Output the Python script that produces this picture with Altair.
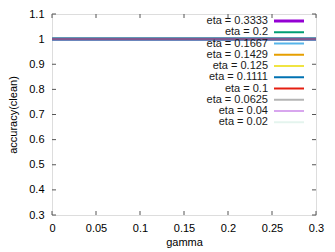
import altair as alt
import pandas as pd

# ---- data ----
eta_labels = ["eta = 0.3333", "eta = 0.2", "eta = 0.1667", "eta = 0.1429", "eta = 0.125",
              "eta = 0.1111", "eta = 0.1", "eta = 0.0625", "eta = 0.04", "eta = 0.02"]
eta_colors = ["#9400d3", "#009e73", "#56b4e9", "#e69f00", "#f0e442",
              "#0072b2", "#e51e10", "#b4b4b4", "#d8a6ee", "#e4f4ee"]
gamma = [0.0, 0.05, 0.1, 0.15, 0.2, 0.25, 0.3]
accuracy = {
    "eta = 0.3333": [1.0, 1.0, 1.0, 1.0, 1.0, 1.0, 1.0],
    "eta = 0.2":    [1.0, 1.0, 1.0, 1.0, 1.0, 1.0, 1.0],
    "eta = 0.1667": [1.0, 1.0, 1.0, 1.0, 1.0, 1.0, 1.0],
    "eta = 0.1429": [1.0, 1.0, 1.0, 1.0, 1.0, 1.0, 1.0],
    "eta = 0.125":  [1.0, 1.0, 1.0, 1.0, 1.0, 1.0, 1.0],
    "eta = 0.1111": [1.0, 1.0, 1.0, 1.0, 1.0, 1.0, 1.0],
    "eta = 0.1":    [1.0, 1.0, 1.0, 1.0, 1.0, 1.0, 1.0],
    "eta = 0.0625": [1.0, 1.0, 1.0, 1.0, 1.0, 1.0, 1.0],
    "eta = 0.04":   [1.0, 1.0, 1.0, 1.0, 1.0, 1.0, 1.0],
    "eta = 0.02":   [1.0, 1.0, 1.0, 1.0, 1.0, 1.0, 1.0],
}
x_ticks = [0, 0.05, 0.1, 0.15, 0.2, 0.25, 0.3]
y_ticks = [0.3, 0.4, 0.5, 0.6, 0.7, 0.8, 0.9, 1.0, 1.1]

W, H = 264, 201
FONT = "Liberation Sans, Arial, sans-serif"

color_scale = alt.Scale(domain=eta_labels, range=eta_colors)
xscale = alt.Scale(domain=[0, 0.3], nice=False, zero=False)
yscale = alt.Scale(domain=[0.3, 1.1], nice=False, zero=False)

x_axis = alt.Axis(values=x_ticks, format="~g", title="gamma", tickSize=0, domain=False,
                  grid=False, labelPadding=7, titlePadding=3, labelFlush=False,
                  labelOverlap=False, titleFontWeight="normal", titleFontSize=11,
                  labelFontSize=11)
y_axis = alt.Axis(values=y_ticks, format="~g", title="accuracy(clean)", tickSize=0,
                  domain=False, grid=False, labelPadding=8, labelFlush=False,
                  labelOverlap=False, titleAngle=270, titleBaseline="middle",
                  titleAlign="center", titleX=-39, titleY=H / 2,
                  titleFontWeight="normal", titleFontSize=11, labelFontSize=11)

rows = []
for lab in eta_labels:
    for g, a in zip(gamma, accuracy[lab]):
        rows.append({"gamma": g, "acc": a, "eta": lab})
df = pd.DataFrame(rows)

# draw order: faint series first, light-blue just under the top series
order = ["eta = 0.02", "eta = 0.04", "eta = 0.0625", "eta = 0.1", "eta = 0.1111",
         "eta = 0.125", "eta = 0.1429", "eta = 0.2", "eta = 0.1667", "eta = 0.3333"]
line_layers = []
for lab in order:
    is_top = lab == "eta = 0.3333"
    if is_top:
        mk = alt.Chart(df).transform_filter(alt.datum.eta == lab).mark_line(
            strokeWidth=2.6, color="#80588f")
        lay = mk.encode(
            x=alt.X("gamma:Q", scale=xscale, axis=x_axis, title="gamma"),
            y=alt.Y("acc:Q", scale=yscale, axis=y_axis, title="accuracy(clean)"),
        )
    else:
        lay = alt.Chart(df).transform_filter(alt.datum.eta == lab).mark_line(
            strokeWidth=3.6 if lab == "eta = 0.1667" else 3.4,
        ).encode(
            x=alt.X("gamma:Q", scale=xscale, axis=x_axis, title="gamma"),
            y=alt.Y("acc:Q", scale=yscale, axis=y_axis, title="accuracy(clean)"),
            color=alt.Color("eta:N", scale=color_scale, legend=None),
        )
    line_layers.append(lay)

tick_color = "#555555"
xt = pd.DataFrame({"xt": x_ticks})
yt = pd.DataFrame({"yt": y_ticks})
ticks = [
    alt.Chart(yt).mark_rule(color=tick_color, strokeWidth=1).encode(
        y=alt.Y("yt:Q", scale=yscale, axis=y_axis, title="accuracy(clean)"),
        x=alt.value(0), x2=alt.value(4)),
    alt.Chart(yt).mark_rule(color=tick_color, strokeWidth=1).encode(
        y=alt.Y("yt:Q", scale=yscale, axis=y_axis, title="accuracy(clean)"),
        x=alt.value(W - 4), x2=alt.value(W)),
    alt.Chart(xt).mark_rule(color=tick_color, strokeWidth=1).encode(
        x=alt.X("xt:Q", scale=xscale, axis=x_axis, title="gamma"),
        y=alt.value(H - 4), y2=alt.value(H)),
    alt.Chart(xt).mark_rule(color=tick_color, strokeWidth=1).encode(
        x=alt.X("xt:Q", scale=xscale, axis=x_axis, title="gamma"),
        y=alt.value(0), y2=alt.value(4)),
]

leg_df = pd.DataFrame({"eta": eta_labels, "idx": list(range(len(eta_labels)))})
leg_base = alt.Chart(leg_df).transform_calculate(ly="7 + datum.idx * 11.25")
leg_text = leg_base.mark_text(align="right", baseline="middle", fontSize=11,
                              font=FONT, color="#1a1a1a").encode(
    x=alt.value(216), y=alt.Y("ly:Q", scale=None, axis=None), text="eta:N")
leg_rule = leg_base.mark_rule(strokeWidth=2).encode(
    x=alt.value(222), x2=alt.value(252), y=alt.Y("ly:Q", scale=None, axis=None),
    color=alt.Color("eta:N", scale=color_scale, legend=None))
leg_rule_top = leg_base.transform_filter("datum.idx == 0").mark_rule(strokeWidth=3).encode(
    x=alt.value(222), x2=alt.value(252), y=alt.Y("ly:Q", scale=None, axis=None),
    color=alt.Color("eta:N", scale=color_scale, legend=None))

chart = alt.layer(*ticks, *line_layers, leg_text, leg_rule, leg_rule_top).properties(
    width=W, height=H,
    autosize=alt.AutoSizeParams(type="none"),
    padding={"left": 44, "top": 6, "right": 11, "bottom": 37},
).configure_view(
    stroke="#555555", strokeWidth=1
).configure_axis(
    labelFont=FONT, titleFont=FONT, labelFontSize=11, titleFontSize=11,
    titleFontWeight="normal", labelColor="#1a1a1a", titleColor="#1a1a1a"
).configure(background="white")

chart.save("out.html", embed_options={"renderer": "svg", "actions": False})
